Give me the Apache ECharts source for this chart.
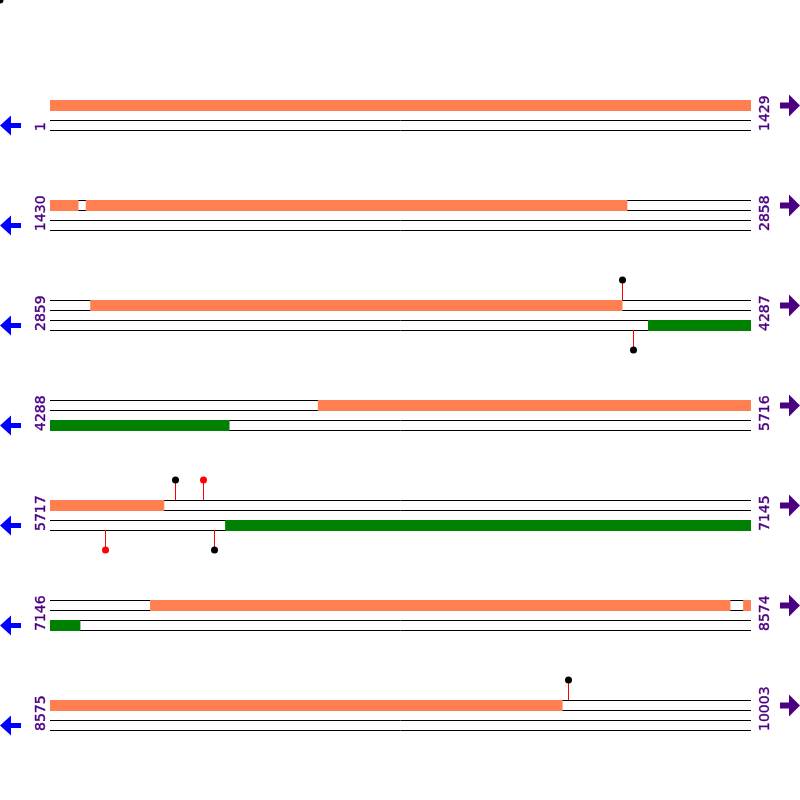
<!DOCTYPE html>
<html>
<head>
<meta charset="utf-8">
<script src="https://cdn.jsdelivr.net/npm/echarts@6/dist/echarts.min.js"></script>
<style>html,body{margin:0;padding:0;background:#fff}#c{width:800px;height:800px}</style>
</head>
<body>
<div id="c"></div>
<script>
// Row tick labels (start / end base of each row)
const rowStarts = [1, 1430, 2859, 4288, 5717, 7146, 8575];
const rowEnds = [1429, 2858, 4287, 5716, 7145, 8574, 10003];
// Forward-strand features (orange) [start, end]
const forwardFeatures = [[1, 1487], [1503, 2606], [2941, 4025], [4834, 5949], [7350, 8532], [8559, 9619]];
// Reverse-strand features (green) [start, end]
const reverseFeatures = [[4078, 4653], [6074, 7207]];
// Sites (lollipops)
const forwardSites = [4025, 5972, 6029, 9631];
const forwardSiteColors = ['black', 'black', 'red', 'black'];
const reverseSites = [4047, 5829, 6051];
const reverseSiteColors = ['black', 'red', 'black'];

const ROW_LEN = rowEnds[0] - rowStarts[0] + 1;
const ORANGE = '#FF7F50', GREEN = '#008000', PURPLE = '#4B0082', BLUE = '#0000FF';

function rowOf(pos) {
  for (let i = 0; i < rowStarts.length; i++) if (pos >= rowStarts[i] && pos <= rowEnds[i]) return i;
  return -1;
}
function splitFeatures(list, strand) {
  const out = [];
  list.forEach(([s, e]) => {
    for (let i = 0; i < rowStarts.length; i++) {
      const a = Math.max(s, rowStarts[i]), b = Math.min(e, rowEnds[i]);
      if (a <= b) out.push([a - rowStarts[i], b - rowStarts[i] + 1, i, strand]);
    }
  });
  return out;
}
const featureData = splitFeatures(forwardFeatures, 0).concat(splitFeatures(reverseFeatures, 1));
const siteData = [];
forwardSites.forEach((p, k) => { const r = rowOf(p); siteData.push({ value: [p - rowStarts[r] + 0.5, r, 0], c: forwardSiteColors[k] }); });
reverseSites.forEach((p, k) => { const r = rowOf(p); siteData.push({ value: [p - rowStarts[r] + 0.5, r, 1], c: reverseSiteColors[k] }); });
const rowData = rowStarts.map((s, i) => [0, rowEnds[i] - s + 1, i]);

const chart = echarts.init(document.getElementById('c'), null, { renderer: 'canvas' });

function label(x, y, text) {
  return {
    type: 'text', x: x, y: y, rotation: Math.PI / 2,
    style: { text: text, x: 0, y: 0, fill: PURPLE, stroke: PURPLE, lineWidth: 0.4, font: '14px "DejaVu Sans"',
      align: 'left', verticalAlign: 'middle', textAlign: 'left', textVerticalAlign: 'middle' }
  };
}

chart.setOption({
  animation: false,
  grid: { left: 50, width: 701, top: 100, height: 700 },
  xAxis: { type: 'value', min: 0, max: ROW_LEN, show: false },
  yAxis: { type: 'value', min: 0, max: 7, inverse: true, show: false },
  graphic: [{ type: 'circle', shape: { cx: 0, cy: 0, r: 3.5 }, style: { fill: 'black' } }],
  series: [
    {
      type: 'custom', silent: true, data: rowData,
      renderItem: function (params, api) {
        const r = api.value(2);
        const p0 = api.coord([api.value(0), r]);
        const p1 = api.coord([api.value(1), r]);
        const y = Math.round(p0[1]);
        const children = [];
        [0, 10, 20, 30].forEach(dy => {
          children.push({ type: 'line', shape: { x1: p0[0], y1: y + dy + 0.5, x2: p1[0], y2: y + dy + 0.5 },
            style: { stroke: '#000', lineWidth: 1 } });
        });
        children.push(label(41, y + 31, String(rowStarts[r])));
        children.push(label(765, y + 31, String(rowEnds[r])));
        const cl = y + 25.5;
        children.push({ type: 'polygon', shape: { points: [[0, cl], [11, cl - 10], [11, cl - 2.5], [21, cl - 2.5], [21, cl + 2.5], [11, cl + 2.5], [11, cl + 10]] }, style: { fill: BLUE } });
        const cr = y + 5.5;
        children.push({ type: 'polygon', shape: { points: [[800, cr], [789, cr - 11], [789, cr - 3], [780, cr - 3], [780, cr + 3], [789, cr + 3], [789, cr + 11]] }, style: { fill: PURPLE } });
        return { type: 'group', children: children };
      }
    },
    {
      type: 'custom', silent: true, data: featureData,
      renderItem: function (params, api) {
        const r = api.value(2), strand = api.value(3);
        const a = api.coord([api.value(0), r]);
        const b = api.coord([api.value(1), r]);
        const y = Math.round(a[1]) + (strand ? 20 : 0);
        return { type: 'rect', shape: { x: a[0], y: y, width: b[0] - a[0], height: 11 },
          style: { fill: strand ? GREEN : ORANGE } };
      }
    },
    {
      type: 'custom', silent: true, data: siteData,
      renderItem: function (params, api) {
        const r = api.value(1), strand = api.value(2);
        const p = api.coord([api.value(0), r]);
        const x = Math.round(p[0]) + 0.5;
        const y = Math.round(p[1]);
        const c = siteData[params.dataIndex].c;
        let y1, y2;
        if (strand === 0) { y1 = y - 20; y2 = y; } else { y1 = y + 30; y2 = y + 50; }
        const dotY = strand === 0 ? y1 : y2;
        return { type: 'group', children: [
          { type: 'line', shape: { x1: x, y1: y1, x2: x, y2: y2 }, style: { stroke: 'red', lineWidth: 1 } },
          { type: 'circle', shape: { cx: x, cy: dotY, r: 3.5 }, style: { fill: c } }
        ] };
      }
    }
  ]
});
</script>
</body>
</html>
